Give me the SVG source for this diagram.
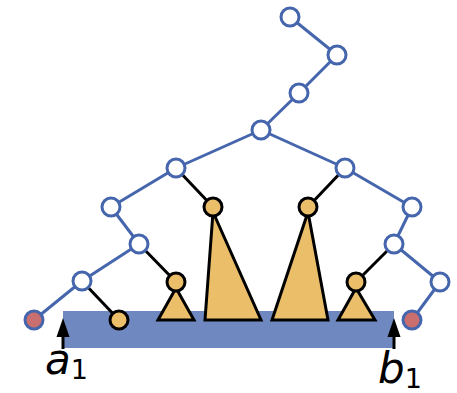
<svg xmlns="http://www.w3.org/2000/svg" width="457" height="393" viewBox="0 0 457 393">
<defs>
<style>
.e{stroke:#4565ad;stroke-width:3;fill:none}
.k{stroke:#000;stroke-width:3;fill:none}
.n{fill:#fff;stroke:#4565ad;stroke-width:3}
.p{fill:#c96f6f;stroke:#4565ad;stroke-width:3}
.y{fill:#ebbe69;stroke:#000;stroke-width:3;stroke-linejoin:miter}
.t{font-family:"DejaVu Sans",sans-serif;font-style:italic;fill:#000}
.ah{fill:#000}
</style>
</defs>
<rect id="bar" x="63" y="311" width="331" height="37" fill="#7088c0"/>
<g id="connectors">
<line class="e" x1="290" y1="17" x2="337" y2="55"/>
<line class="e" x1="337" y1="55" x2="299" y2="93"/>
<line class="e" x1="299" y1="93" x2="261" y2="130"/>
<line class="e" x1="261" y1="130" x2="176" y2="168"/>
<line class="e" x1="261" y1="130" x2="345" y2="168"/>
<line class="e" x1="176" y1="168" x2="111" y2="207"/>
<line class="e" x1="111" y1="207" x2="139" y2="244"/>
<line class="e" x1="139" y1="244" x2="82" y2="281"/>
<line class="e" x1="82" y1="281" x2="34" y2="320"/>
<line class="e" x1="345" y1="168" x2="412" y2="207"/>
<line class="e" x1="412" y1="207" x2="394" y2="244"/>
<line class="e" x1="394" y1="244" x2="440" y2="282"/>
<line class="e" x1="440" y1="282" x2="412" y2="320"/>
<line class="k" x1="82" y1="281" x2="119" y2="320"/>
<line class="k" x1="139" y1="244" x2="176" y2="282"/>
<line class="k" x1="176" y1="168" x2="213" y2="207"/>
<line class="k" x1="345" y1="168" x2="308" y2="207"/>
<line class="k" x1="394" y1="244" x2="356" y2="282"/>
<line class="k" x1="63" y1="349" x2="63" y2="334"/>
<path class="ah" d="M63,318L56.5,337L69.5,337Z"/>
<line class="k" x1="394" y1="349" x2="394" y2="334"/>
<path class="ah" d="M394,318L387.5,337L400.5,337Z"/>
</g>
<g id="n1"><circle class="n" cx="290" cy="17" r="9"/></g>
<g id="n2"><circle class="n" cx="337" cy="55" r="9"/></g>
<g id="n3"><circle class="n" cx="299" cy="93" r="9"/></g>
<g id="n4"><circle class="n" cx="261" cy="130" r="9"/></g>
<g id="n5"><circle class="n" cx="176" cy="168" r="9"/></g>
<g id="n6"><circle class="n" cx="345" cy="168" r="9"/></g>
<g id="n7"><circle class="n" cx="111" cy="207" r="9"/></g>
<g id="n8"><circle class="n" cx="412" cy="207" r="9"/></g>
<g id="n9"><circle class="n" cx="139" cy="244" r="9"/></g>
<g id="n10"><circle class="n" cx="394" cy="244" r="9"/></g>
<g id="n11"><circle class="n" cx="82" cy="281" r="9"/></g>
<g id="n12"><circle class="n" cx="440" cy="282" r="9"/></g>
<g id="leafL"><circle class="p" cx="34" cy="320" r="9"/></g>
<g id="leafR"><circle class="p" cx="412" cy="320" r="9"/></g>
<g id="y1"><circle class="y" cx="119" cy="320" r="9"/></g>
<g id="t1"><polygon class="y" points="176,288 158,320 194,320"/><circle class="y" cx="176" cy="282" r="9"/></g>
<g id="t2"><polygon class="y" points="213,212 205,320 261,320"/><circle class="y" cx="213" cy="207" r="9"/></g>
<g id="t3"><polygon class="y" points="308,212 272,320 328,320"/><circle class="y" cx="308" cy="207" r="9"/></g>
<g id="t4"><polygon class="y" points="356,288 338,320 375,320"/><circle class="y" cx="356" cy="282" r="9"/></g>
<g id="la"><text class="t" x="45" y="374" font-size="42">a<tspan font-size="27" font-style="normal" dy="5">1</tspan></text></g>
<g id="lb"><text class="t" x="378" y="383" font-size="42">b<tspan font-size="27" font-style="normal" dy="5">1</tspan></text></g>
</svg>
